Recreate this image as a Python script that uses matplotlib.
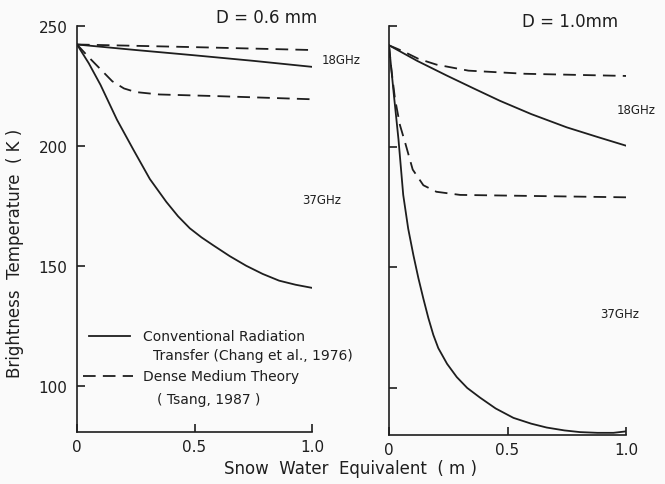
import matplotlib
matplotlib.use("Agg")
import matplotlib.pyplot as plt
from matplotlib.lines import Line2D

# ---- data (x = snow water equivalent, m; y = Tb, K) ----
# D = 0.6 mm
l18_solid_x = [0, 0.25, 0.5, 0.75, 1.0]
l18_solid_y = [242.3, 240.0, 237.8, 235.5, 233.0]
l18_dash_x = [0, 0.5, 1.0]
l18_dash_y = [242.3, 241.2, 240.0]
l37_dash_x = [0, 0.05, 0.1, 0.15, 0.2, 0.25, 0.35, 0.6, 1.0]
l37_dash_y = [242.3, 237.0, 232.0, 227.0, 224.0, 222.5, 221.5, 220.8, 219.5]
l37_solid_x = [0, 0.05, 0.1, 0.17, 0.24, 0.31, 0.38, 0.43, 0.48, 0.53, 0.58, 0.65, 0.72,
               0.79, 0.86, 0.93, 1.0]
l37_solid_y = [242.3, 234.5, 225.5, 211.0, 198.5, 186.3, 176.8, 170.8, 165.8, 162.0, 158.7,
               154.2, 150.2, 146.8, 144.0, 142.3, 141.0]

# D = 1.0 mm
r18_solid_x = [0, 0.12, 0.243, 0.36, 0.468, 0.6, 0.75, 0.88, 1.0]
r18_solid_y = [242.0, 235.5, 229.5, 224.0, 219.0, 213.5, 208.0, 204.0, 200.4]
r18_dash_x = [0, 0.06, 0.124, 0.2, 0.335, 0.574, 1.0]
r18_dash_y = [242.0, 239.5, 236.4, 234.0, 231.5, 230.2, 229.3]
r37_dash_x = [0, 0.01, 0.025, 0.046, 0.07, 0.1, 0.145, 0.2, 0.3, 1.0]
r37_dash_y = [242.0, 232.0, 220.0, 209.0, 201.0, 190.5, 184.0, 181.3, 180.0, 179.0]
r37_solid_x = [0, 0.02, 0.04, 0.06, 0.081, 0.103, 0.124, 0.145, 0.166, 0.187, 0.208, 0.245,
               0.286, 0.33, 0.384, 0.45, 0.525, 0.6, 0.665, 0.74, 0.806, 0.88, 0.947, 1.0]
r37_solid_y = [242.0, 222.0, 203.0, 180.0, 166.0, 155.0, 145.5, 137.0, 129.0, 122.0, 116.5,
               110.0, 104.5, 100.0, 96.0, 91.5, 87.6, 85.2, 83.6, 82.4, 81.7, 81.4, 81.4, 82.0]

yticks = [100, 150, 200, 250]
xticks = [0, 0.5, 1.0]
xticklabels = ["0", "0.5", "1.0"]

W, H = 665, 485
ink = "#1e1e1e"
bg = "#fafafa"
lw = 1.3
dash = (7, 4)


def fx(px):
    return px / W


def fy(py):
    return 1 - py / H


fig = plt.figure(figsize=(6.65, 4.85), dpi=100, facecolor=bg)
ax1 = fig.add_axes([fx(77), fy(433), fx(312) - fx(77), fy(27) - fy(433)])
ax2 = fig.add_axes([fx(389), fy(436), fx(626) - fx(389), fy(27) - fy(436)])

ax1.plot(l18_solid_x, l18_solid_y, color=ink, lw=lw)
ax1.plot(l18_dash_x, l18_dash_y, color=ink, lw=lw, dashes=dash)
ax1.plot(l37_dash_x, l37_dash_y, color=ink, lw=lw, dashes=dash)
ax1.plot(l37_solid_x, l37_solid_y, color=ink, lw=lw)

ax2.plot(r18_solid_x, r18_solid_y, color=ink, lw=lw)
ax2.plot(r18_dash_x, r18_dash_y, color=ink, lw=lw, dashes=dash)
ax2.plot(r37_dash_x, r37_dash_y, color=ink, lw=lw, dashes=dash)
ax2.plot(r37_solid_x, r37_solid_y, color=ink, lw=lw)

for ax, ybot in ((ax1, 81), (ax2, 80.5)):
    ax.set_facecolor(bg)
    ax.set_xlim(0, 1.0)
    ax.set_ylim(ybot, 250)
    ax.spines["top"].set_visible(False)
    ax.spines["right"].set_visible(False)
    ax.spines["left"].set_linewidth(1.2)
    ax.spines["bottom"].set_linewidth(1.2)
    ax.spines["left"].set_color(ink)
    ax.spines["bottom"].set_color(ink)
    ax.set_xticks(xticks)
    ax.set_xticklabels(xticklabels)
    ax.set_yticks(yticks)
    ax.tick_params(direction="in", length=6, width=1.2, color=ink, labelcolor=ink,
                   labelsize=11)
    ax.tick_params(axis="y", pad=7)
    ax.tick_params(axis="x", pad=5)
ax2.set_yticklabels([])

# panel titles and frequency labels
fig.text(fx(267), fy(18), "D = 0.6 mm", ha="center", va="center", fontsize=12, color=ink)
fig.text(fx(570), fy(22), "D = 1.0mm", ha="center", va="center", fontsize=12, color=ink)
fig.text(fx(322), fy(60), "18GHz", ha="left", va="center", fontsize=8.5, color=ink)
fig.text(fx(302), fy(201), "37GHz", ha="left", va="center", fontsize=8.5, color=ink)
fig.text(fx(617), fy(110), "18GHz", ha="left", va="center", fontsize=8.5, color=ink)
fig.text(fx(600), fy(315), "37GHz", ha="left", va="center", fontsize=8.5, color=ink)

# axis labels
fig.text(fx(15), fy(253), "Brightness  Temperature  ( K )", rotation=90,
         ha="center", va="center", fontsize=12, color=ink)
fig.text(fx(351), fy(469), "Snow  Water  Equivalent  ( m )",
         ha="center", va="center", fontsize=12, color=ink)

# hand-drawn key
fig.add_artist(Line2D([fx(89), fx(130)], [fy(337), fy(337)], color=ink, lw=lw,
                      transform=fig.transFigure))
fig.add_artist(Line2D([fx(83), fx(133)], [fy(377), fy(377)], color=ink, lw=lw,
                      dashes=dash, transform=fig.transFigure))
fig.text(fx(143), fy(337), "Conventional Radiation", ha="left", va="center",
         fontsize=10, color=ink)
fig.text(fx(153), fy(356), "Transfer (Chang et al., 1976)", ha="left", va="center",
         fontsize=10, color=ink)
fig.text(fx(143), fy(377), "Dense Medium Theory", ha="left", va="center",
         fontsize=10, color=ink)
fig.text(fx(157), fy(400), "( Tsang, 1987 )", ha="left", va="center",
         fontsize=10, color=ink)

fig.savefig("out.png", dpi=100, facecolor=bg)
